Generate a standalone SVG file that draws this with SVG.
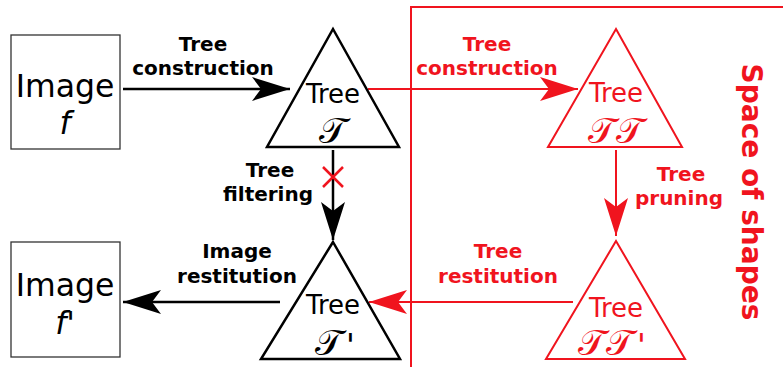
<svg xmlns="http://www.w3.org/2000/svg" width="783" height="367" viewBox="0 0 783 367">
<style>
.box{fill:#fff;stroke:#333;stroke-width:1.3}
.tri{fill:none;stroke:#000;stroke-width:2.5;stroke-linejoin:miter}
.rtri{fill:none;stroke:#f0141e;stroke-width:2}
.img{font-family:"DejaVu Sans",sans-serif;font-size:31.5px;fill:#000;text-anchor:middle}
.tree{font-family:"DejaVu Sans",sans-serif;font-size:26px;text-anchor:middle}
.cal{font-family:"DejaVu Serif",serif;font-size:36px;text-anchor:middle}
.prm{font-family:"DejaVu Sans",sans-serif;font-style:italic;font-size:32px}
.lbl{font-family:"DejaVu Sans",sans-serif;font-weight:bold;font-size:20px;text-anchor:middle}
.k{fill:#000}.r{fill:#f0141e}
.line{stroke:#000;stroke-width:2.5;fill:none}
.rline{stroke:#f0141e;stroke-width:2;fill:none}
</style>
<defs>
<marker id="ah" markerUnits="userSpaceOnUse" viewBox="0 0 40 24" markerWidth="40" markerHeight="24" refX="38" refY="12" orient="auto">
<path d="M38,12 L0,0 L9,12 L0,24 Z" fill="#000"/>
</marker>
<marker id="rah" markerUnits="userSpaceOnUse" viewBox="0 0 40 24" markerWidth="40" markerHeight="24" refX="38" refY="12" orient="auto">
<path d="M38,12 L0,0 L9,12 L0,24 Z" fill="#f0141e"/>
</marker>
</defs>
<g id="space">
<path d="M411,367 V7 H783" fill="none" stroke="#f0141e" stroke-width="2"/>
<text x="750" y="192" transform="rotate(90 750 192)" font-family="DejaVu Sans,sans-serif" font-weight="bold" font-size="28" fill="#f0141e" text-anchor="middle" dominant-baseline="middle">Space of shapes</text>
</g>
<g id="connectors">
<line class="line" x1="123" y1="89" x2="290" y2="89" marker-end="url(#ah)"/>
<line class="rline" x1="368" y1="89" x2="578" y2="89" marker-end="url(#rah)"/>
<line class="line" x1="333" y1="150" x2="333" y2="240" marker-end="url(#ah)"/>
<line class="rline" x1="616" y1="150" x2="616" y2="236" marker-end="url(#rah)"/>
<line class="line" x1="280" y1="302" x2="123" y2="302" marker-end="url(#ah)"/>
<line class="rline" x1="573" y1="302" x2="369" y2="302" marker-end="url(#rah)"/>
<path d="M323,167 L343,187 M343,167 L323,187" stroke="#f0141e" stroke-width="2.5"/>
<text class="lbl k" x="203" y="51">Tree</text>
<text class="lbl k" x="203" y="75">construction</text>
<text class="lbl r" x="487" y="51">Tree</text>
<text class="lbl r" x="487" y="75">construction</text>
<text class="lbl k" x="270" y="177">Tree</text>
<text class="lbl k" x="268" y="201">filtering</text>
<text class="lbl r" x="681" y="181">Tree</text>
<text class="lbl r" x="679" y="205">pruning</text>
<text class="lbl k" x="237" y="258">Image</text>
<text class="lbl k" x="237" y="283">restitution</text>
<text class="lbl r" x="498" y="258">Tree</text>
<text class="lbl r" x="498" y="283">restitution</text>
</g>
<g id="image-f">
<rect class="box" x="11" y="35" width="109" height="114"/>
<text class="img" x="65" y="97">Image</text>
<text class="img" x="65" y="134" font-style="italic">f</text>
</g>
<g id="image-fp">
<rect class="box" x="11" y="242" width="109" height="115"/>
<text class="img" x="65" y="296">Image</text>
<text class="img" x="65" y="334" font-style="italic">f'</text>
</g>
<g id="tree-T">
<path class="tri" d="M333,29 L399,147 L267,147 Z"/>
<text class="tree k" x="333" y="103">Tree</text>
<text class="cal k" x="333" y="143">𝒯</text>
</g>
<g id="tree-TT">
<path class="rtri" d="M616,29 L682,147 L548,147 Z"/>
<text class="tree r" x="616" y="102">Tree</text>
<text class="cal r" x="616" y="143">𝒯𝒯</text>
</g>
<g id="tree-Tp">
<path class="tri" d="M333,242 L400,359 L261,359 Z"/>
<text class="tree k" x="333" y="314">Tree</text>
<text class="cal k" x="329" y="355">𝒯</text>
<text class="prm k" x="346" y="356">'</text>
</g>
<g id="tree-TTp">
<path class="rtri" d="M616,241 L685,359 L546,359 Z"/>
<text class="tree r" x="616" y="317">Tree</text>
<text class="cal r" x="606" y="355">𝒯𝒯</text>
<text class="prm r" x="637" y="356">'</text>
</g>
</svg>
